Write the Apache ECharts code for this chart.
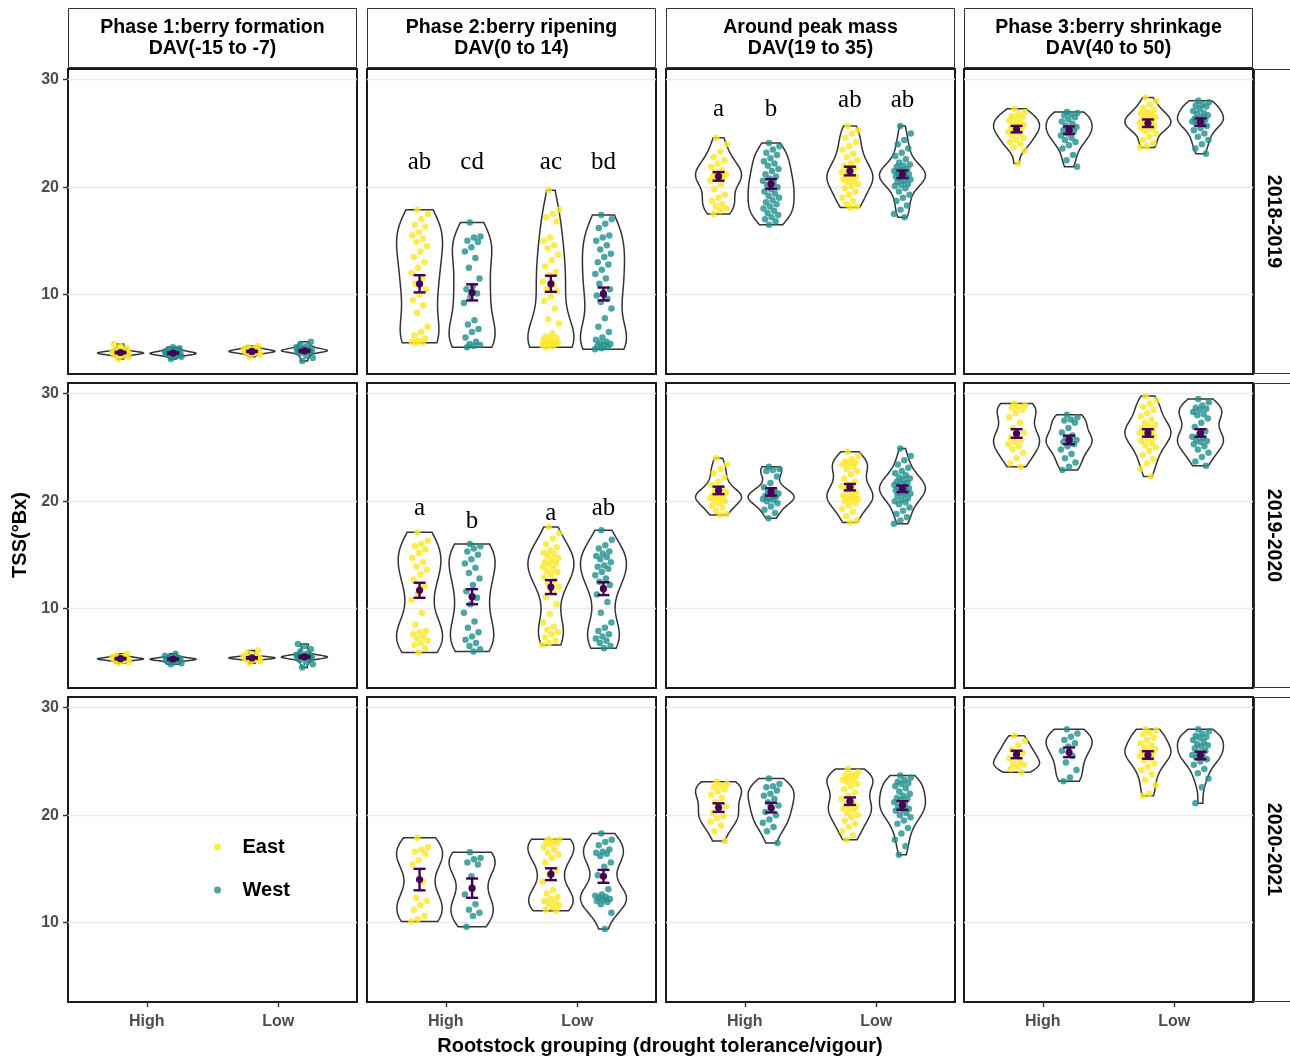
<!DOCTYPE html>
<html><head><meta charset="utf-8">
<script src="https://cdn.jsdelivr.net/npm/echarts@6/dist/echarts.min.js"></script>
<style>html,body{margin:0;padding:0;background:#fff}#c{width:1290px;height:1059px}</style>
</head><body><div id="c"></div>
<script>
// ---------------- DATA ----------------
const phases = ['Phase 1:berry formation\nDAV(-15 to -7)', 'Phase 2:berry ripening\nDAV(0 to 14)', 'Around peak mass\nDAV(19 to 35)', 'Phase 3:berry shrinkage\nDAV(40 to 50)'];
const years = ['2018-2019', '2019-2020', '2020-2021'];
const rootstocks = ['High', 'Low'];
const sides = ['East', 'West'];
const yTicks = [10, 20, 30];
// each panel: [High-East, High-West, Low-East, Low-West]
const tss_2018_ph1 = [
 [4.0,4.2,4.3,4.4,4.4,4.5,4.5,4.5,4.5,4.6,4.6,4.6,4.6,4.7,4.7,4.8,4.9,5.0,5.2,5.4],
 [4.0,4.2,4.3,4.4,4.4,4.4,4.5,4.5,4.5,4.5,4.6,4.6,4.6,4.7,4.7,4.8,4.9,5.0,5.1],
 [4.2,4.4,4.5,4.6,4.6,4.6,4.7,4.7,4.7,4.7,4.8,4.8,4.8,4.9,4.9,5.0,5.1,5.2],
 [3.8,4.1,4.3,4.5,4.6,4.7,4.7,4.7,4.8,4.8,4.8,4.9,4.9,5.0,5.1,5.2,5.4,5.6]];
const tss_2018_ph2 = [
 [17.9,17.5,17.0,16.5,16.3,15.8,15.5,15.2,14.9,14.5,14.0,13.5,13.0,12.5,12.0,11.5,11.0,10.5,10.0,9.5,9.0,8.3,7.0,6.5,6.2,5.9,5.7,5.6,5.5,5.5],
 [16.7,15.4,15.3,15.0,14.9,14.4,14.0,13.4,12.5,11.5,10.8,10.5,10.1,9.8,9.2,7.6,7.2,6.8,6.5,6.0,5.6,5.4,5.3,5.2,5.1],
 [19.7,17.9,17.5,17.2,16.8,15.3,15.0,14.6,14.3,13.7,13.2,12.6,12.1,11.8,11.2,10.9,10.5,10.3,9.8,9.4,8.7,7.7,7.3,6.4,6.1,6.0,5.9,5.8,5.6,5.6,5.5,5.5,5.4,5.4,5.3,5.3,5.2,5.1],
 [17.4,17.0,16.6,16.2,15.5,15.3,15.0,14.6,14.2,13.8,13.5,13.0,12.8,12.3,11.9,11.5,11.0,10.5,10.2,9.9,9.6,9.3,8.7,7.8,7.0,6.5,6.0,5.8,5.6,5.5,5.4,5.3,5.2,5.1,5.0,4.9]];
const tss_2018_ph3 = [
 [24.6,24.0,23.3,22.8,22.5,22.2,21.9,21.6,21.4,21.2,21.1,21.0,20.9,20.8,20.6,20.3,19.8,19.3,19.0,18.7,18.4,18.2,18.0,17.8,17.5],
 [24.1,23.8,23.5,23.2,23.0,22.7,22.4,22.2,22.0,21.7,21.5,21.2,21.0,20.8,20.6,20.4,20.2,20.0,19.8,19.6,19.4,19.2,19.0,18.8,18.6,18.4,18.2,18.0,17.8,17.6,17.4,17.2,17.0,16.8,16.5],
 [25.7,25.3,25.0,24.6,24.2,23.8,23.5,23.1,22.8,22.5,22.2,22.0,21.8,21.6,21.4,21.2,21.1,21.0,20.8,20.7,20.6,20.5,20.3,20.1,19.9,19.6,19.3,19.0,18.7,18.4,18.2,18.1],
 [25.7,25.0,24.4,24.0,23.6,23.2,22.9,22.6,22.3,22.1,22.0,21.9,21.7,21.6,21.5,21.4,21.3,21.2,21.1,21.0,20.9,20.8,20.7,20.6,20.5,20.3,20.2,20.1,19.9,19.6,19.3,19.0,18.7,18.3,17.9,17.5,17.2]];
const tss_2018_ph4 = [
 [27.3,27.0,26.8,26.6,26.5,26.4,26.2,26.0,25.9,25.8,25.7,25.5,25.4,25.3,25.1,25.0,24.8,24.6,24.4,24.2,24.0,23.7,23.4,22.2],
 [27.0,26.9,26.8,26.7,26.5,26.3,26.1,25.9,25.7,25.6,25.5,25.3,25.2,25.0,24.8,24.6,24.4,24.2,23.9,23.6,23.0,22.5,21.9],
 [28.35,28.0,27.7,27.4,27.2,27.0,26.9,26.8,26.6,26.5,26.4,26.3,26.2,26.1,26.0,25.9,25.8,25.7,25.6,25.5,25.4,25.2,25.0,24.7,24.4,24.1,23.8,23.7],
 [28.05,27.9,27.7,27.6,27.5,27.3,27.1,26.9,26.8,26.7,26.5,26.4,26.3,26.2,26.1,26.0,25.9,25.7,25.5,25.3,25.0,24.7,24.4,24.0,23.6,23.1]];
const tss_2019_ph1 = [
 [4.9,5.0,5.1,5.2,5.2,5.2,5.3,5.3,5.3,5.3,5.3,5.4,5.4,5.4,5.5,5.5,5.6,5.8],
 [4.8,4.9,5.0,5.1,5.2,5.2,5.2,5.3,5.3,5.3,5.3,5.4,5.4,5.5,5.6,5.8],
 [4.9,5.1,5.2,5.3,5.3,5.3,5.4,5.4,5.4,5.4,5.4,5.5,5.5,5.5,5.6,5.7,5.9,6.1],
 [4.5,4.8,5.0,5.2,5.3,5.4,5.4,5.4,5.5,5.5,5.5,5.5,5.6,5.6,5.7,5.8,6.0,6.2,6.5,6.7]];
const tss_2019_ph2 = [
 [17.1,16.3,16.0,15.8,15.5,15.2,14.7,14.3,13.9,13.6,13.2,12.7,12.1,11.4,10.8,9.6,8.5,7.9,7.8,7.6,7.4,7.2,7.0,6.8,6.6,6.3,5.9],
 [16.0,15.8,15.6,15.3,15.0,14.6,14.2,13.8,13.3,12.8,12.2,11.6,11.0,10.4,9.6,8.8,8.2,7.8,7.4,7.1,6.8,6.5,6.2,6.0],
 [17.6,17.0,16.5,16.0,15.7,15.4,15.2,15.1,14.9,14.7,14.5,14.3,14.2,14.1,13.9,13.7,13.5,13.4,13.2,12.9,12.6,12.3,12.0,11.6,11.1,10.4,9.5,8.7,8.3,8.0,7.8,7.6,7.3,7.0,6.8,6.6],
 [17.3,16.4,15.9,15.6,15.3,15.1,14.9,14.8,14.6,14.3,14.0,13.9,13.7,13.4,13.1,12.8,12.5,12.2,11.9,11.3,10.6,9.6,8.7,8.2,7.9,7.6,7.4,7.2,7.0,6.8,6.5,6.3]];
const tss_2019_ph3 = [
 [24.0,23.4,23.0,22.6,22.2,21.8,21.5,21.2,21.0,20.8,20.7,20.6,20.5,20.4,20.3,20.2,20.1,20.0,19.8,19.6,19.4,19.1,18.8,18.7],
 [23.2,23.0,22.9,22.8,22.3,21.7,21.3,21.0,20.8,20.7,20.6,20.5,20.4,20.3,20.2,20.1,20.0,19.8,19.5,19.2,18.9,18.4],
 [24.6,24.2,23.9,23.7,23.6,23.5,23.4,23.2,23.0,22.8,22.5,22.1,21.8,21.5,21.4,21.2,21.0,20.8,20.6,20.5,20.4,20.3,20.2,20.1,20.0,19.8,19.6,19.3,19.0,18.6,18.2,18.0],
 [24.9,24.2,23.8,23.4,23.1,22.8,22.6,22.4,22.2,22.1,22.0,21.8,21.7,21.6,21.5,21.4,21.3,21.2,21.1,21.0,20.9,20.8,20.7,20.6,20.5,20.3,20.1,20.0,19.9,19.7,19.4,19.1,18.8,18.5,18.2,17.9]];
const tss_2019_ph4 = [
 [29.1,28.9,28.8,28.7,28.5,28.2,27.8,27.3,26.8,26.4,26.1,25.9,25.7,25.5,25.3,25.1,24.8,24.5,24.0,23.5,23.2],
 [28.05,27.8,27.6,27.5,27.3,26.8,26.4,26.1,25.9,25.7,25.6,25.5,25.3,25.1,24.8,24.4,24.0,23.6,23.2,22.9],
 [29.8,29.4,29.1,28.8,28.5,28.2,27.9,27.6,27.3,27.1,27.0,26.8,26.6,26.5,26.4,26.3,26.2,26.0,25.8,25.6,25.4,25.2,25.0,24.7,24.3,23.9,23.5,23.0,22.3],
 [29.5,29.2,28.9,28.7,28.6,28.5,28.3,28.1,28.0,27.7,27.3,26.9,26.5,26.2,26.0,25.9,25.7,25.6,25.5,25.3,25.1,24.8,24.5,24.1,23.7,23.3]];
const tss_2020_ph1 = [[], [], [], []];
const tss_2020_ph2 = [
 [17.9,17.0,16.8,16.6,16.4,15.8,15.4,13.8,12.3,12.0,11.6,11.2,10.6,10.3,10.1],
 [16.55,16.0,15.9,15.6,15.4,14.3,12.6,11.7,11.2,10.9,10.6,9.6],
 [17.75,17.7,17.6,17.5,17.4,17.3,17.0,16.8,16.5,16.3,16.0,15.6,14.9,14.5,13.8,13.0,12.7,12.4,12.2,12.0,11.9,11.8,11.6,11.4,11.2,11.1],
 [18.3,17.7,17.5,17.2,16.8,16.6,16.5,16.4,16.2,15.6,15.2,14.4,13.1,12.6,12.5,12.4,12.3,12.2,12.1,12.0,11.9,11.7,10.9,9.4]];
const tss_2020_ph3 = [
 [23.1,22.9,22.8,22.6,22.4,22.2,21.9,21.6,21.2,20.8,20.5,20.2,19.9,19.7,19.4,19.0,18.5,17.6],
 [23.4,22.9,22.7,22.6,22.3,22.0,21.8,21.5,21.2,20.9,20.6,20.3,20.0,19.6,19.3,18.9,18.5,17.4],
 [24.3,24.0,23.8,23.7,23.6,23.5,23.3,23.2,23.1,22.9,22.7,22.4,22.1,21.8,21.5,21.2,21.0,20.8,20.7,20.6,20.4,20.2,20.0,19.8,19.5,19.2,18.9,18.5,18.1,17.7],
 [23.7,23.5,23.3,23.1,23.0,22.9,22.7,22.5,22.2,22.0,21.8,21.6,21.5,21.4,21.2,21.0,20.8,20.6,20.5,20.4,20.2,20.0,19.8,19.5,19.2,18.8,18.3,17.7,17.1,16.3]];
const tss_2020_ph4 = [
 [27.4,26.9,26.5,26.1,25.8,25.6,25.3,25.0,24.8,24.7,24.5,24.3,24.0],
 [28.0,27.6,27.3,27.0,26.7,26.4,26.0,25.5,24.9,24.2,23.5,23.15],
 [28.0,27.9,27.7,27.5,27.2,27.0,26.7,26.5,26.3,26.1,26.0,25.9,25.7,25.6,25.5,25.3,25.1,24.8,24.5,24.2,23.8,23.3,22.8,22.0,21.8],
 [28.0,27.8,27.6,27.4,27.3,27.2,27.0,26.8,26.6,26.5,26.4,26.2,26.0,25.8,25.6,25.5,25.4,25.2,25.0,24.7,24.3,23.9,23.4,22.6,21.1]];
// mean and standard error per panel (phase) per group
const mean_2018 = [[4.6,4.55,4.7,4.75],[11.0,10.2,11.0,10.05],[21.0,20.3,21.5,21.2],[25.4,25.3,25.95,26.05]];
const se_2018   = [[0.07,0.07,0.06,0.08],[0.8,0.75,0.75,0.6],[0.4,0.45,0.4,0.35],[0.3,0.35,0.35,0.35]];
const mean_2019 = [[5.33,5.3,5.4,5.5],[11.7,11.1,12.0,11.85],[21.0,20.86,21.3,21.15],[26.3,25.7,26.35,26.35]];
const se_2019   = [[0.07,0.07,0.07,0.1],[0.7,0.7,0.65,0.6],[0.35,0.35,0.3,0.3],[0.4,0.4,0.35,0.35]];
const mean_2020 = [[],[14.0,13.2,14.5,14.3],[20.7,20.7,21.3,20.9],[25.65,25.85,25.6,25.55]];
const se_2020   = [[],[1.0,0.9,0.55,0.6],[0.4,0.45,0.35,0.4],[0.35,0.45,0.35,0.35]];
// significance letters
const letters_2018 = [[],['ab','cd','ac','bd'],['a','b','ab','ab'],[]];
const letterY_2018 = [[],[22.3,22.3,22.3,22.3],[27.25,27.25,28.1,28.1],[]];
const letters_2019 = [[],['a','b','a','ab'],[],[]];
const letterY_2019 = [[],[19.35,18.1,18.9,19.3],[],[]];
const letters_2020 = [[],[],[],[]];
const letterY_2020 = [[],[],[],[]];

// ---------------- BUILD ----------------
const SANS = '"Liberation Sans", Arial, Helvetica, sans-serif';
const SERIF = '"Liberation Serif", "Times New Roman", serif';
const EAST = '#FDE725', WEST = '#21908C', MEANC = '#440154';
const colLeft = [68, 367, 666, 964], rowTop = [69, 383, 697], PW = 289, PH = 305;
const tssByYear = [[tss_2018_ph1, tss_2018_ph2, tss_2018_ph3, tss_2018_ph4],
                   [tss_2019_ph1, tss_2019_ph2, tss_2019_ph3, tss_2019_ph4],
                   [tss_2020_ph1, tss_2020_ph2, tss_2020_ph3, tss_2020_ph4]];
const meanByYear = [mean_2018, mean_2019, mean_2020];
const seByYear = [se_2018, se_2019, se_2020];
const lettersByYear = [letters_2018, letters_2019, letters_2020];
const letterYByYear = [letterY_2018, letterY_2019, letterY_2020];

const DODGE = 0.2, HALFW = 0.175, JIT = 0.065;
function groupX(g) { return 1 + Math.floor(g / 2) + (g % 2 === 0 ? -DODGE : DODGE); }
function quantile(s, p) { const h = (s.length - 1) * p, lo = Math.floor(h); const hi = Math.min(lo + 1, s.length - 1); return s[lo] + (h - lo) * (s[hi] - s[lo]); }
function bwNrd0(v) {
  const n = v.length, m = v.reduce((a, b) => a + b, 0) / n;
  const sd = Math.sqrt(v.reduce((a, b) => a + (b - m) * (b - m), 0) / (n - 1));
  const s = v.slice().sort((a, b) => a - b);
  const iqr = quantile(s, 0.75) - quantile(s, 0.25);
  let lo = Math.min(sd, iqr / 1.34); if (!(lo > 0)) lo = sd || 1;
  return 0.9 * lo * Math.pow(n, -0.2);
}
function densityCurve(v) {
  const bw = bwNrd0(v), mn = Math.min(...v), mx = Math.max(...v), N = 80, out = [];
  for (let i = 0; i < N; i++) {
    const y = mn + (mx - mn) * i / (N - 1);
    let s = 0; for (const x of v) { const z = (y - x) / bw; s += Math.exp(-0.5 * z * z); }
    out.push([y, s / (v.length * bw * Math.sqrt(2 * Math.PI))]);
  }
  return out;
}
function jitter(i) { return (((i * 0.6180339887 + 0.37) % 1) - 0.5) * 2 * JIT; }

const grids = [], xAxes = [], yAxes = [], series = [];
const tickStyle = { color: '#333333', width: 1.4 };
const labStyle = { color: '#4d4d4d', fontSize: 16, fontWeight: 'bold', fontFamily: SANS };
for (let i = 0; i < 3; i++) {
  for (let j = 0; j < 4; j++) {
    const k = i * 4 + j;
    grids.push({ left: colLeft[j], top: rowTop[i], width: PW, height: PH, show: true, borderColor: '#1a1a1a', borderWidth: 2, backgroundColor: 'rgba(0,0,0,0)', outerBoundsMode: 'none', containLabel: false });
    const bottom = i === 2, left = j === 0;
    xAxes.push({ gridIndex: k, type: 'value', min: 0.4, max: 2.6, position: 'bottom',
      axisLine: { show: false, onZero: false }, splitLine: { show: false },
      axisTick: { show: bottom, length: 5, customValues: [1, 2], lineStyle: tickStyle },
      axisLabel: Object.assign({ show: bottom, customValues: [1, 2], margin: 12, formatter: v => rootstocks[Math.round(v) - 1] || '' }, labStyle) });
    yAxes.push({ gridIndex: k, type: 'value', min: 2.6, max: 31,
      axisLine: { show: false, onZero: false },
      splitLine: { show: true, lineStyle: { color: '#ebebeb', width: 1.4 } },
      axisTick: { show: left, length: 5, customValues: yTicks, lineStyle: tickStyle },
      axisLabel: Object.assign({ show: left, customValues: yTicks, margin: 9 }, labStyle) });

    const groups = tssByYear[i][j];
    if (!groups.some(g => g.length)) continue;
    // violins (kernel density, trimmed, each scaled to the same maximum width)
    const curves = groups.map(g => densityCurve(g));
    const polys = curves.map((c, g) => {
      const cx = groupX(g);
      const maxD = Math.max(...c.map(p => p[1]));
      const right = c.map(p => [cx + p[1] / maxD * HALFW, p[0]]);
      const leftS = c.slice().reverse().map(p => [cx - p[1] / maxD * HALFW, p[0]]);
      return right.concat(leftS);
    });
    series.push({ type: 'custom', name: 'violin', xAxisIndex: k, yAxisIndex: k, z: 2, silent: true,
      encode: { x: 0, y: 1 },
      data: groups.map((g, gi) => [groupX(gi), g[0], gi]),
      renderItem: (params, api) => {
        const poly = polys[api.value(2)];
        return { type: 'polygon', shape: { points: poly.map(p => api.coord(p)) },
          style: { fill: 'none', stroke: '#333333', lineWidth: 1.5 } };
      } });
    // jittered points
    [0, 1].forEach(side => {
      const pts = [];
      [side, side + 2].forEach(gi => {
        groups[gi].forEach((v, n) => pts.push([groupX(gi) + jitter(n), v]));
      });
      series.push({ type: 'scatter', name: sides[side], xAxisIndex: k, yAxisIndex: k, z: 3,
        symbol: 'circle', symbolSize: 6.5, data: pts,
        itemStyle: { color: side === 0 ? EAST : WEST, opacity: 0.8 } });
    });
    // mean +/- se
    const mns = meanByYear[i][j], ses = seByYear[i][j];
    series.push({ type: 'custom', name: 'mean', xAxisIndex: k, yAxisIndex: k, z: 4, silent: true,
      encode: { x: 0, y: 1 },
      data: mns.map((m, gi) => [groupX(gi), m, ses[gi]]),
      renderItem: (params, api) => {
        const x = api.value(0), m = api.value(1), s = api.value(2);
        const c = api.coord([x, m]), t = api.coord([x, m + s]), b = api.coord([x, m - s]);
        const st = { stroke: MEANC, lineWidth: 2.4 };
        return { type: 'group', children: [
          { type: 'line', shape: { x1: c[0], y1: t[1], x2: c[0], y2: b[1] }, style: st },
          { type: 'line', shape: { x1: c[0] - 6, y1: t[1], x2: c[0] + 6, y2: t[1] }, style: st },
          { type: 'line', shape: { x1: c[0] - 6, y1: b[1], x2: c[0] + 6, y2: b[1] }, style: st },
          { type: 'circle', shape: { cx: c[0], cy: c[1], r: 3.6 }, style: { fill: MEANC } } ] };
      } });
    // letters
    const lets = lettersByYear[i][j], ly = letterYByYear[i][j];
    if (lets.length) {
      series.push({ type: 'custom', name: 'letters', xAxisIndex: k, yAxisIndex: k, z: 5, silent: true,
        encode: { x: 0, y: 1 },
        data: lets.map((t, gi) => [groupX(gi), ly[gi], gi]),
        renderItem: (params, api) => {
          const c = api.coord([api.value(0), api.value(1)]);
          return { type: 'text', x: c[0], y: c[1],
            style: { text: lets[api.value(2)], fill: '#000', fontSize: 25, fontFamily: SERIF, align: 'center', verticalAlign: 'middle' } };
        } });
    }
  }
}

const graphics = [];
phases.forEach((p, j) => {
  graphics.push({ type: 'rect', shape: { x: colLeft[j] + 0.5, y: 8.5, width: PW - 1, height: 59 }, style: { fill: '#fff', stroke: '#333333', lineWidth: 1 }, silent: true });
  graphics.push({ type: 'text', x: colLeft[j] + PW / 2, y: 38.5, style: { text: p, fill: '#000', fontSize: 19.5, fontWeight: 'bold', fontFamily: SANS, align: 'center', verticalAlign: 'middle', lineHeight: 21 }, silent: true });
});
years.forEach((yr, i) => {
  graphics.push({ type: 'rect', shape: { x: 1254.5, y: rowTop[i] + 0.5, width: 60, height: PH - 1 }, style: { fill: '#fff', stroke: '#333333', lineWidth: 1 }, silent: true });
  graphics.push({ type: 'text', x: 1273, y: rowTop[i] + PH / 2, rotation: -Math.PI / 2, style: { text: yr, fill: '#000', fontSize: 19.5, fontWeight: 'bold', fontFamily: SANS, align: 'center', verticalAlign: 'middle' }, silent: true });
});
graphics.push({ type: 'text', x: 20, y: 535, rotation: Math.PI / 2, style: { text: 'TSS(°Bx)', fill: '#000', fontSize: 20, fontWeight: 'bold', fontFamily: SANS, align: 'center', verticalAlign: 'middle' }, silent: true });
graphics.push({ type: 'text', x: 660, y: 1046, style: { text: 'Rootstock grouping (drought tolerance/vigour)', fill: '#000', fontSize: 20, fontWeight: 'bold', fontFamily: SANS, align: 'center', verticalAlign: 'middle' }, silent: true });

const chart = echarts.init(document.getElementById('c'), null, { renderer: 'canvas', width: 1290, height: 1059 });
chart.setOption({
  animation: false,
  backgroundColor: '#ffffff',
  grid: grids, xAxis: xAxes, yAxis: yAxes, series: series,
  legend: { data: sides, orient: 'vertical', left: 214, top: 837, padding: 0, itemWidth: 40, itemHeight: 7, itemGap: 23,
    icon: 'circle', selectedMode: false,
    textStyle: { fontFamily: SANS, fontSize: 20, fontWeight: 'bold', color: '#000' } },
  graphic: graphics
});
</script></body></html>
